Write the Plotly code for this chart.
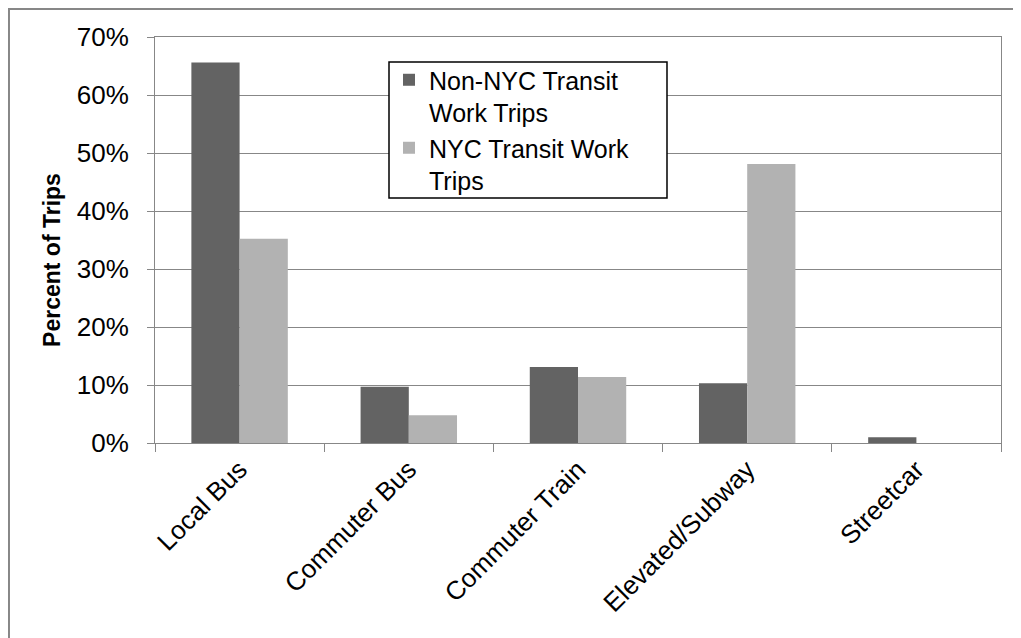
import plotly.graph_objects as go

categories = ["Local Bus", "Commuter Bus", "Commuter Train", "Elevated/Subway", "Streetcar"]
non_nyc = [0.656, 0.097, 0.131, 0.103, 0.010]
nyc = [0.352, 0.048, 0.114, 0.481, 0.0]
series_names = ["Non-NYC Transit<br>Work Trips", "NYC Transit Work<br>Trips"]
y_ticks = [0, 0.1, 0.2, 0.3, 0.4, 0.5, 0.6, 0.7]

FONT = "Liberation Sans, Arial, sans-serif"
GRID = "#878787"

fig = go.Figure()
fig.add_trace(go.Bar(x=categories, y=non_nyc, name=series_names[0],
                     marker=dict(color="#636363", line=dict(width=0))))
fig.add_trace(go.Bar(x=categories, y=nyc, name=series_names[1],
                     marker=dict(color="#b2b2b2", line=dict(width=0))))

fig.update_layout(
    width=1013, height=630,
    margin=dict(l=147, r=20, t=29, b=195),
    paper_bgcolor="white", plot_bgcolor="white",
    barmode="group", bargap=0.43, bargroupgap=0,
    font=dict(family=FONT, size=26, color="black"),
    showlegend=True,
    legend=dict(
        x=0.2766, y=0.9507, xanchor="left", yanchor="top",
        borderwidth=0, bgcolor="rgba(0,0,0,0)",
        font=dict(family=FONT, size=25, color="black"),
        valign="top", tracegroupgap=0,
    ),
    xaxis=dict(
        type="category", tickangle=-45, tickson="boundaries",
        ticks="outside", ticklen=8, tickcolor=GRID, tickwidth=1,
        showline=True, linecolor=GRID, linewidth=1, mirror=True,
        showgrid=False,
        tickfont=dict(family=FONT, size=26, color="black"),
    ),
    yaxis=dict(
        range=[0, 0.7], tickvals=y_ticks, tickformat=".0%",
        ticks="outside", ticklen=7, tickcolor=GRID, tickwidth=1,
        showline=True, linecolor=GRID, linewidth=1, mirror=True,
        showgrid=True, gridcolor=GRID, gridwidth=1,
        zeroline=False,
        tickfont=dict(family=FONT, size=26, color="black"),
        ticklabelstandoff=13,
    ),
    annotations=[dict(
        text="<b>Percent of Trips</b>", textangle=-90,
        xref="paper", yref="paper", x=-0.121, y=0.45,
        xanchor="center", yanchor="middle", showarrow=False,
        font=dict(family=FONT, size=23, color="black"),
    )],
    shapes=[
        dict(
            type="rect", xref="paper", yref="paper",
            x0=-0.1726, x1=1.3, y0=-1.0, y1=1.0690,
            line=dict(color=GRID, width=2), fillcolor="rgba(0,0,0,0)", layer="below",
        ),
        dict(
            type="rect", xref="paper", yref="paper",
            x0=0.2766, x1=0.6052, y0=0.6034, y1=0.9384,
            line=dict(color="black", width=1.5), fillcolor="white", layer="above",
        ),
    ],
)

fig.write_html("out.html")
